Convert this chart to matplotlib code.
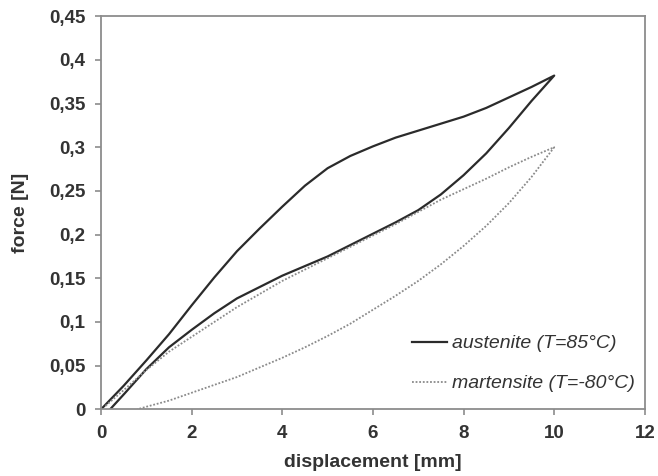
import matplotlib.pyplot as plt
import numpy as np

plt.rcParams['font.family'] = ['Liberation Sans', 'DejaVu Sans']

# austenite loop (T=85°C): loading branch and unloading branch
aus_load_x = [0, 0.5, 1, 1.5, 2, 2.5, 3, 3.5, 4, 4.5, 5, 5.5, 6, 6.5, 7, 7.5, 8, 8.5, 9, 9.5, 10]
aus_load_y = [0, 0.027, 0.056, 0.086, 0.119, 0.151, 0.181, 0.207, 0.232, 0.256, 0.276, 0.290, 0.301,
              0.311, 0.319, 0.327, 0.335, 0.345, 0.357, 0.369, 0.382]
aus_unload_x = [10, 9.5, 9, 8.5, 8, 7.5, 7, 6.5, 6, 5.5, 5, 4.5, 4, 3.5, 3, 2.5, 2, 1.5, 1, 0.5, 0.2]
aus_unload_y = [0.382, 0.353, 0.322, 0.293, 0.268, 0.246, 0.228, 0.214, 0.201, 0.188, 0.175, 0.164,
                0.153, 0.140, 0.127, 0.110, 0.091, 0.071, 0.046, 0.017, 0]

# martensite loop (T=-80°C)
mar_load_x = [0.1, 0.5, 1, 1.5, 2, 2.5, 3, 3.5, 4, 4.5, 5, 5.5, 6, 6.5, 7, 7.5, 8, 8.5, 9, 9.5, 10]
mar_load_y = [0.004, 0.022, 0.045, 0.066, 0.083, 0.100, 0.117, 0.132, 0.147, 0.160, 0.173, 0.186,
              0.199, 0.212, 0.226, 0.240, 0.252, 0.264, 0.277, 0.289, 0.300]
mar_unload_x = [10, 9.5, 9, 8.5, 8, 7.5, 7, 6.5, 6, 5.5, 5, 4.5, 4, 3.5, 3, 2.5, 2, 1.5, 1, 0.8]
mar_unload_y = [0.300, 0.266, 0.236, 0.210, 0.187, 0.166, 0.147, 0.130, 0.114, 0.098, 0.084, 0.071,
                0.059, 0.048, 0.037, 0.028, 0.019, 0.010, 0.003, 0]

x_ticks = [0, 2, 4, 6, 8, 10, 12]
y_ticks = [0, 0.05, 0.1, 0.15, 0.2, 0.25, 0.3, 0.35, 0.4, 0.45]
y_tick_labels = ['0', '0,05', '0,1', '0,15', '0,2', '0,25', '0,3', '0,35', '0,4', '0,45']

fig = plt.figure(figsize=(6.58, 4.76), dpi=100)
ax = fig.add_axes([0.1535, 0.140, 0.8265, 0.826])

ax.plot(aus_load_x + aus_unload_x, aus_load_y + aus_unload_y, color='#2b2b2b', lw=1.6,
        label='austenite (T=85°C)')
ax.plot(mar_load_x + mar_unload_x, mar_load_y + mar_unload_y, color='#8a8a8a', lw=1.3,
        linestyle=(0, (1, 1)), label='martensite (T=-80°C)')

ax.set_xlim(0, 12)
ax.set_ylim(0, 0.45)
ax.set_xticks(x_ticks)
ax.set_yticks(y_ticks)
ax.set_yticklabels(y_tick_labels)

for s in ax.spines.values():
    s.set_color('#8c8c8c')
    s.set_linewidth(1.3)

ax.tick_params(direction='out', length=4, width=1.2, color='#8c8c8c',
               labelsize=13.5, labelcolor='#333333', pad=7)
for lbl in ax.get_xticklabels() + ax.get_yticklabels():
    lbl.set_fontweight('bold')

ax.set_xlabel('displacement [mm]', fontsize=14, fontweight='bold', color='#333333', labelpad=9)
ax.set_ylabel('force [N]', fontsize=14, fontweight='bold', color='#333333', labelpad=15)

leg = ax.legend(loc='lower right', bbox_to_anchor=(0.982, 0.043), frameon=False, fontsize=14,
                handlelength=1.8, handletextpad=0.25, labelspacing=1.15,
                borderpad=0, borderaxespad=0)
for t in leg.get_texts():
    t.set_fontstyle('italic')
    t.set_color('#333333')

fig.savefig('out.png', dpi=100)
